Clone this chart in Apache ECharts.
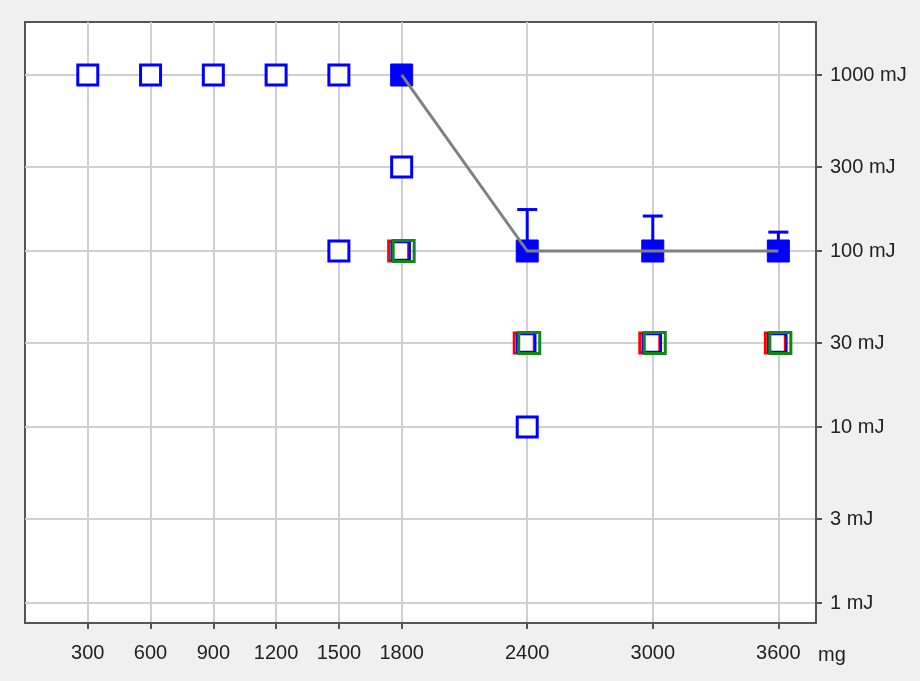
<!DOCTYPE html>
<html>
<head>
<meta charset="utf-8">
<script src="https://cdn.jsdelivr.net/npm/echarts@6/dist/echarts.min.js"></script>
<style>
html,body{margin:0;padding:0;background:#f0f0f0;}
#chart{width:920px;height:681px;}
</style>
</head>
<body>
<div id="chart"></div>
<script>
// Tick values
const xTicks = [300, 600, 900, 1200, 1500, 1800, 2400, 3000, 3600];
const yTicks = [1, 3, 10, 30, 100, 300, 1000];
// Series data [dose mg, energy mJ]
const blueOpen = [[300,1000],[600,1000],[900,1000],[1200,1000],[1500,1000],[1800,300],[1500,100],[2400,10]];
const blueFilled = [[1800,1000],[2400,100],[3000,100],[3600,100]];
const errorUpper = [[2400,100,172],[3000,100,158],[3600,100,128]];
const redGreen = [[1800,100],[2400,30],[3000,30],[3600,30]];

const chart = echarts.init(document.getElementById('chart'));
const font = 'Liberation Sans';
const sq = 20;
const option = {
  backgroundColor: '#f0f0f0',
  animation: false,
  grid: { left: 25, top: 22, right: 104, bottom: 58, show: true, backgroundColor: '#ffffff', borderColor: '#555555', borderWidth: 2 },
  xAxis: {
    type: 'value', min: 0, max: 3780,
    name: 'mg', nameLocation: 'end', nameGap: 2,
    nameTextStyle: { fontFamily: font, fontSize: 20, color: '#222', verticalAlign: 'top', padding: [22, 0, 0, 0] },
    axisLine: { show: true, onZero: false, lineStyle: { color: '#555', width: 2 } },
    axisTick: { show: true, length: 6, customValues: xTicks, lineStyle: { color: '#555', width: 2 } },
    axisLabel: { customValues: xTicks, fontFamily: font, fontSize: 20, color: '#222', margin: 20,
      formatter: v => String(v) },
    splitLine: { show: true, lineStyle: { color: '#d0d0d0', width: 2 } }
  },
  yAxis: {
    type: 'log', min: 0.77, max: 2000, position: 'right',
    axisLine: { show: true, onZero: false, lineStyle: { color: '#555', width: 2 } },
    axisTick: { show: true, length: 6, customValues: yTicks, lineStyle: { color: '#555', width: 2 } },
    axisLabel: { customValues: yTicks, fontFamily: font, fontSize: 20, color: '#222', margin: 14,
      formatter: v => v + ' mJ' },
    splitLine: { show: true, lineStyle: { color: '#d0d0d0', width: 2 } }
  },
  series: [
    { type: 'scatter', data: blueOpen, symbol: 'rect', symbolSize: sq,
      itemStyle: { color: '#ffffff', borderColor: '#0000ff', borderWidth: 3, opacity: 1 }, z: 3 },
    { type: 'scatter', data: blueFilled, symbol: 'rect', symbolSize: sq + 2,
      itemStyle: { color: '#0000ff', borderColor: '#0000ff', borderWidth: 1, opacity: 1 }, z: 3 },
    { type: 'line', data: blueFilled, showSymbol: false, symbol: 'none',
      lineStyle: { color: '#808080', width: 3 }, z: 5 },
    { type: 'custom', data: errorUpper, z: 4,
      renderItem: function (params, api) {
        const b = api.coord([api.value(0), api.value(1)]);
        const t = api.coord([api.value(0), api.value(2)]);
        const st = { stroke: '#0000ff', lineWidth: 3 };
        return { type: 'group', children: [
          { type: 'line', shape: { x1: b[0], y1: b[1], x2: t[0], y2: t[1] }, style: st },
          { type: 'line', shape: { x1: t[0] - 10, y1: t[1], x2: t[0] + 10, y2: t[1] }, style: st }
        ]};
      } },
    { type: 'scatter', data: redGreen, symbol: 'rect', symbolSize: sq, symbolOffset: [-3, 0],
      itemStyle: { color: '#ffffff', borderColor: '#ff0000', borderWidth: 3, opacity: 1 }, z: 3 },
    { type: 'scatter', data: redGreen, symbol: 'rect', symbolSize: sq - 2, symbolOffset: [-1, 0],
      itemStyle: { color: 'rgba(0,0,0,0)', borderColor: '#0000ff', borderWidth: 2.5, opacity: 1 }, z: 4 },
    { type: 'scatter', data: redGreen, symbol: 'rect', symbolSize: sq + 1, symbolOffset: [2, 0],
      itemStyle: { color: 'rgba(0,0,0,0)', borderColor: '#118811', borderWidth: 3, opacity: 1 }, z: 5 }
  ]
};
chart.setOption(option);
</script>
</body>
</html>
